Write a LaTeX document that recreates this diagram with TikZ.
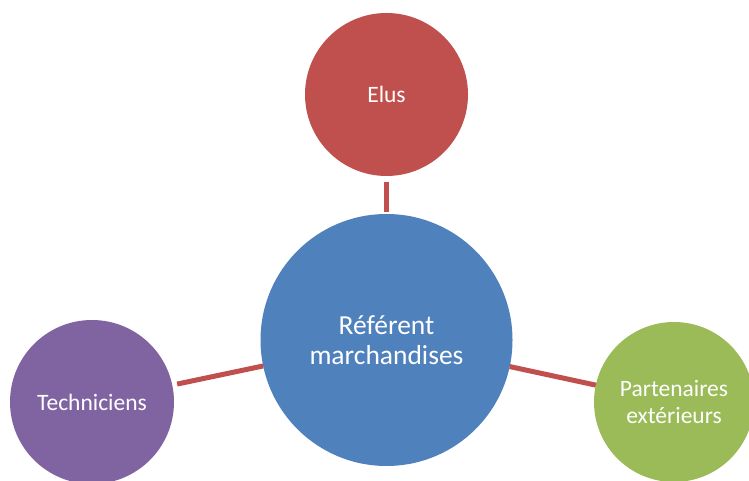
\documentclass[tikz,border=0pt]{standalone}
\usepackage{fontspec}
\setmainfont{Carlito}
\definecolor{cred}{HTML}{C0504D}
\definecolor{cblue}{HTML}{4F81BD}
\definecolor{cpurple}{HTML}{8064A2}
\definecolor{cgreen}{HTML}{9BBB59}
\begin{document}
\begin{tikzpicture}[x=1pt,y=1pt,
  bubble/.style={circle,inner sep=0pt,outer sep=0pt,text=white,align=center,font=\fontsize{23.5}{27}\selectfont},
  link/.style={draw=cred,line width=5pt}]
\useasboundingbox (0,0) rectangle (749,481);
\begin{scope}
\clip (0,0) rectangle (749,481);
\node[bubble,fill=cred,minimum size=163pt] (elus) at (386.5,386.5) {Elus};
\node[bubble,fill=cblue,minimum size=252pt,font=\fontsize{27.5}{30}\selectfont] (center) at (386.5,141) {Référent\\marchandises};
\node[bubble,fill=cpurple,minimum size=164pt] (tech) at (92,79) {Techniciens};
\node[bubble,fill=cgreen,minimum size=160pt] (part) at (674,79) {Partenaires\\extérieurs};
\end{scope}
\path[link,shorten <=6pt,shorten >=2pt] (elus) -- (center);
\path[link,shorten <=5pt] (tech) -- (center);
\path[link] (center) -- (part);
\end{tikzpicture}
\end{document}
